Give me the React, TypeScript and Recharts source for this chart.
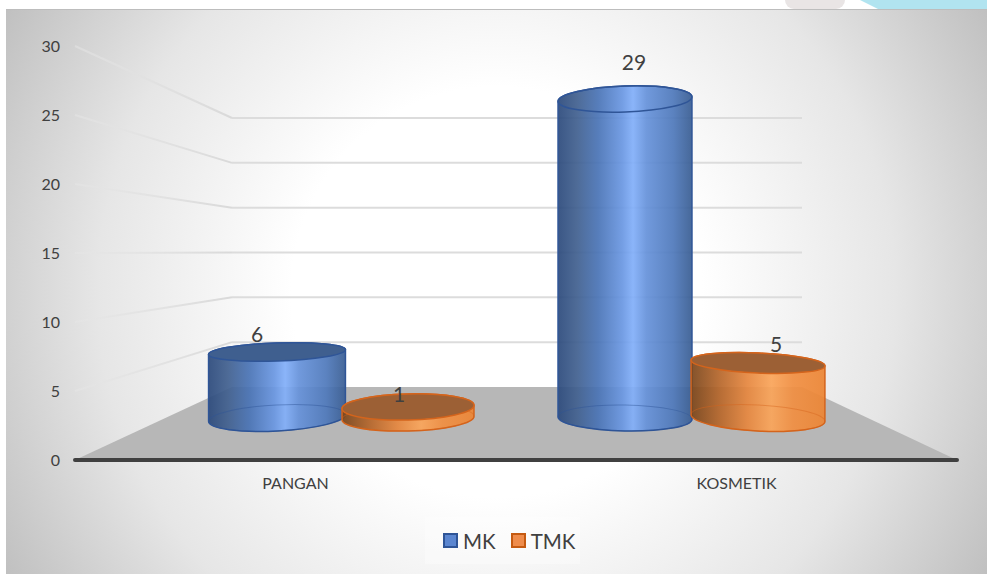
import { BarChart, Bar, XAxis, YAxis, CartesianGrid, LabelList, Legend } from "recharts";

const categories = ["PANGAN", "KOSMETIK"];
const mkValues = [6, 29];
const tmkValues = [1, 5];
const yTicks = [0, 5, 10, 15, 20, 25, 30];

const data = categories.map((name, i) => ({ name, MK: mkValues[i], TMK: tmkValues[i] }));

const FONT = "Lato, sans-serif";
const TEXT = "#404040";

// perspective look of each cylinder, per category
const blue = {
  id: "mk",
  stroke: "#2f5597",
  cap: "#3f5f8f",
  capRy: [9, 13],
  capTilt: [-2, -2],
  baseTilt: [-3, 1],
  capOpen: [false, true],
  shift: [3, 0],
  widen: [3, 0],
  labelDx: [-17, 9],
  labelDy: [-18, -38],
  stops: [
    ["0%", "#2c4a7c"],
    ["14%", "#41608f"],
    ["30%", "#4a74b6"],
    ["48%", "#6a97e2"],
    ["56%", "#82aff9"],
    ["66%", "#6692da"],
    ["86%", "#4f79bb"],
    ["100%", "#395d92"],
  ],
};
const orange = {
  id: "tmk",
  stroke: "#d4641c",
  cap: "#9c6035",
  capRy: [13, 10],
  capTilt: [-1.5, 2.5],
  baseTilt: [-1.5, 3],
  capOpen: [false, false],
  shift: [0, -1],
  widen: [-2, 0],
  labelDx: [-9, 17],
  labelDy: [-13, -19],
  stops: [
    ["0%", "#7a461c"],
    ["22%", "#b8682c"],
    ["42%", "#e6873f"],
    ["60%", "#faa55a"],
    ["76%", "#f18f42"],
    ["100%", "#ec8534"],
  ],
};
const BASE_RY = 13;

function Cylinder(props: any) {
  const { x, y, width, height, index, look } = props;
  const cx = x + width / 2 + look.shift[index];
  const a = (width + look.widen[index]) / 2;
  const capRy = look.capRy[index];
  const capT = (look.capTilt[index] * Math.PI) / 180;
  const baseT = (look.baseTilt[index] * Math.PI) / 180;
  const baseY = y + height;
  const tl = [cx - a * Math.cos(capT), y - a * Math.sin(capT)];
  const tr = [cx + a * Math.cos(capT), y + a * Math.sin(capT)];
  const bl = [cx - a * Math.cos(baseT), baseY - a * Math.sin(baseT)];
  const br = [cx + a * Math.cos(baseT), baseY + a * Math.sin(baseT)];
  const gid = `cyl-${look.id}-${index}`;
  const body =
    `M${tl[0]},${tl[1]} A${a},${capRy} ${look.capTilt[index]} 0 1 ${tr[0]},${tr[1]} ` +
    `L${br[0]},${br[1]} A${a},${BASE_RY} ${look.baseTilt[index]} 0 1 ${bl[0]},${bl[1]} Z`;
  return (
    <g>
      <defs>
        <linearGradient id={gid} x1="0" y1="0" x2="1" y2="0">
          {look.stops.map((s: string[]) => (
            <stop key={s[0]} offset={s[0]} stopColor={s[1]} />
          ))}
        </linearGradient>
      </defs>
      <path d={body} fill={`url(#${gid})`} fillOpacity={0.93} stroke={look.stroke} strokeWidth={1.5} />
      <ellipse
        cx={cx}
        cy={baseY}
        rx={a}
        ry={BASE_RY}
        transform={`rotate(${look.baseTilt[index]} ${cx} ${baseY})`}
        fill="none"
        stroke={look.stroke}
        strokeOpacity={0.45}
      />
      <ellipse
        cx={cx}
        cy={y}
        rx={a}
        ry={capRy}
        transform={`rotate(${look.capTilt[index]} ${cx} ${y})`}
        fill={look.capOpen[index] ? "none" : look.cap}
        stroke={look.stroke}
        strokeWidth={1.5}
      />
    </g>
  );
}

function barLabel(look: any) {
  return (p: any) => (
    <text
      x={p.x + p.width / 2 + look.labelDx[p.index]}
      y={p.y + look.labelDy[p.index]}
      textAnchor="middle"
      dominantBaseline="central"
      fontFamily={FONT}
      fontSize={21}
      fill={TEXT}
    >
      {p.value}
    </text>
  );
}

// side wall + back wall line for a tick; the zero tick gives the floor
function gridLine(p: any) {
  const { x1, y1 } = p;
  const backX = x1 + 157;
  const backEnd = x1 + 727;
  const backY = 118 + ((y1 - 46) * 269) / 414;
  const gid = `wall-${Math.round(y1)}`;
  if (y1 > 455) {
    return (
      <polygon
        key="floor"
        points={`${x1},${y1} ${backX},${backY} ${backEnd},${backY} ${p.x2},${y1}`}
        fill="#b7b7b7"
      />
    );
  }
  return (
    <g key={gid}>
      <defs>
        <linearGradient id={gid} gradientUnits="userSpaceOnUse" x1={x1} y1={0} x2={backX} y2={0}>
          <stop offset="0%" stopColor="#e6e6e6" stopOpacity={0.5} />
          <stop offset="100%" stopColor="#d9d9d9" />
        </linearGradient>
      </defs>
      <path d={`M${x1},${y1} L${backX},${backY}`} stroke={`url(#${gid})`} strokeWidth={2} fill="none" />
      <path d={`M${backX},${backY} L${backEnd},${backY}`} stroke="#dcdcdc" strokeWidth={2} fill="none" />
    </g>
  );
}

function ChartLegend({ payload }: any) {
  return (
    <div
      style={{
        display: "flex",
        alignItems: "center",
        boxSizing: "border-box",
        paddingLeft: 18,
        width: 155,
        height: 47,
        background: "rgba(255,255,255,0.3)",
        fontFamily: FONT,
        fontSize: 20.5,
        color: TEXT,
      }}
    >
      {(payload || []).map((e: any, i: number) => (
        <span key={e.value} style={{ display: "flex", alignItems: "center", marginLeft: i ? 15 : 0 }}>
          <span
            style={{
              width: 11,
              height: 11,
              marginRight: 5,
              background: e.color,
              border: `2px solid ${i ? "#c55a11" : "#2f5597"}`,
            }}
          />
          {e.value}
        </span>
      ))}
    </div>
  );
}

export default function App() {
  return (
    <div style={{ position: "absolute", left: 0, top: 0, width: 987, height: 574, overflow: "hidden", background: "#fff" }}>
      <div
        style={{
          position: "absolute",
          right: 0,
          top: 0,
          width: 127,
          height: 9,
          background: "#b1e4f0",
          clipPath: "polygon(0 0, 100% 0, 100% 100%, 18px 100%)",
        }}
      />
      <div style={{ position: "absolute", left: 785, top: 0, width: 60, height: 9, background: "#e9e5e5", borderRadius: "0 0 30px 30px" }} />
      <div
        style={{
          position: "absolute",
          left: 6,
          top: 9,
          width: 981,
          height: 565,
          boxSizing: "border-box",
          borderTop: "1px solid #bdbdbd",
          background: "radial-gradient(circle 570px at 50% 50%, #ffffff 0%, #ffffff 36%, #e6e6e6 70%, #bfbfbf 100%)",
        }}
      />
      <BarChart
        width={987}
        height={574}
        data={data}
        barSize={134}
        barGap={0}
        margin={{ top: 46, right: 30, bottom: 84, left: 0 }}
        style={{ position: "absolute", left: 0, top: 0 }}
      >
        <CartesianGrid xAxisId="labels" yAxisId="ticks" vertical={false} horizontal={gridLine} syncWithTicks />
        <XAxis xAxisId="bars" dataKey="name" hide height={0} padding={{ left: 90, right: 90 }} />
        <XAxis
          xAxisId="labels"
          dataKey="name"
          height={30}
          tickLine={false}
          tickMargin={12}
          axisLine={{ stroke: "#404040", strokeWidth: 4, strokeLinecap: "round" }}
          tick={{ fontFamily: FONT, fontSize: 16, fill: TEXT }}
        />
        {/* the cylinders stand on the floor, so they use a flatter scale than the front axis */}
        <YAxis yAxisId="bars" hide width={0} domain={[-3.82, 33.82]} />
        <YAxis
          yAxisId="ticks"
          width={75}
          domain={[0, 30]}
          allowDataOverflow
          ticks={yTicks}
          interval={0}
          tickLine={false}
          axisLine={false}
          tickMargin={9}
          tick={{ fontFamily: FONT, fontSize: 16, fill: TEXT }}
        />
        <Legend
          layout="vertical"
          align="center"
          verticalAlign="middle"
          content={<ChartLegend />}
          wrapperStyle={{ left: 425, top: 517, width: 155, height: 47 }}
        />
        <Bar
          xAxisId="bars"
          yAxisId="bars"
          dataKey="MK"
          fill="#5b86d0"
          isAnimationActive={false}
          shape={(p: any) => <Cylinder {...p} look={blue} />}
        >
          <LabelList dataKey="MK" content={barLabel(blue)} />
        </Bar>
        <Bar
          xAxisId="bars"
          yAxisId="bars"
          dataKey="TMK"
          fill="#ef8c4b"
          isAnimationActive={false}
          shape={(p: any) => <Cylinder {...p} look={orange} />}
        >
          <LabelList dataKey="TMK" content={barLabel(orange)} />
        </Bar>
      </BarChart>
    </div>
  );
}
